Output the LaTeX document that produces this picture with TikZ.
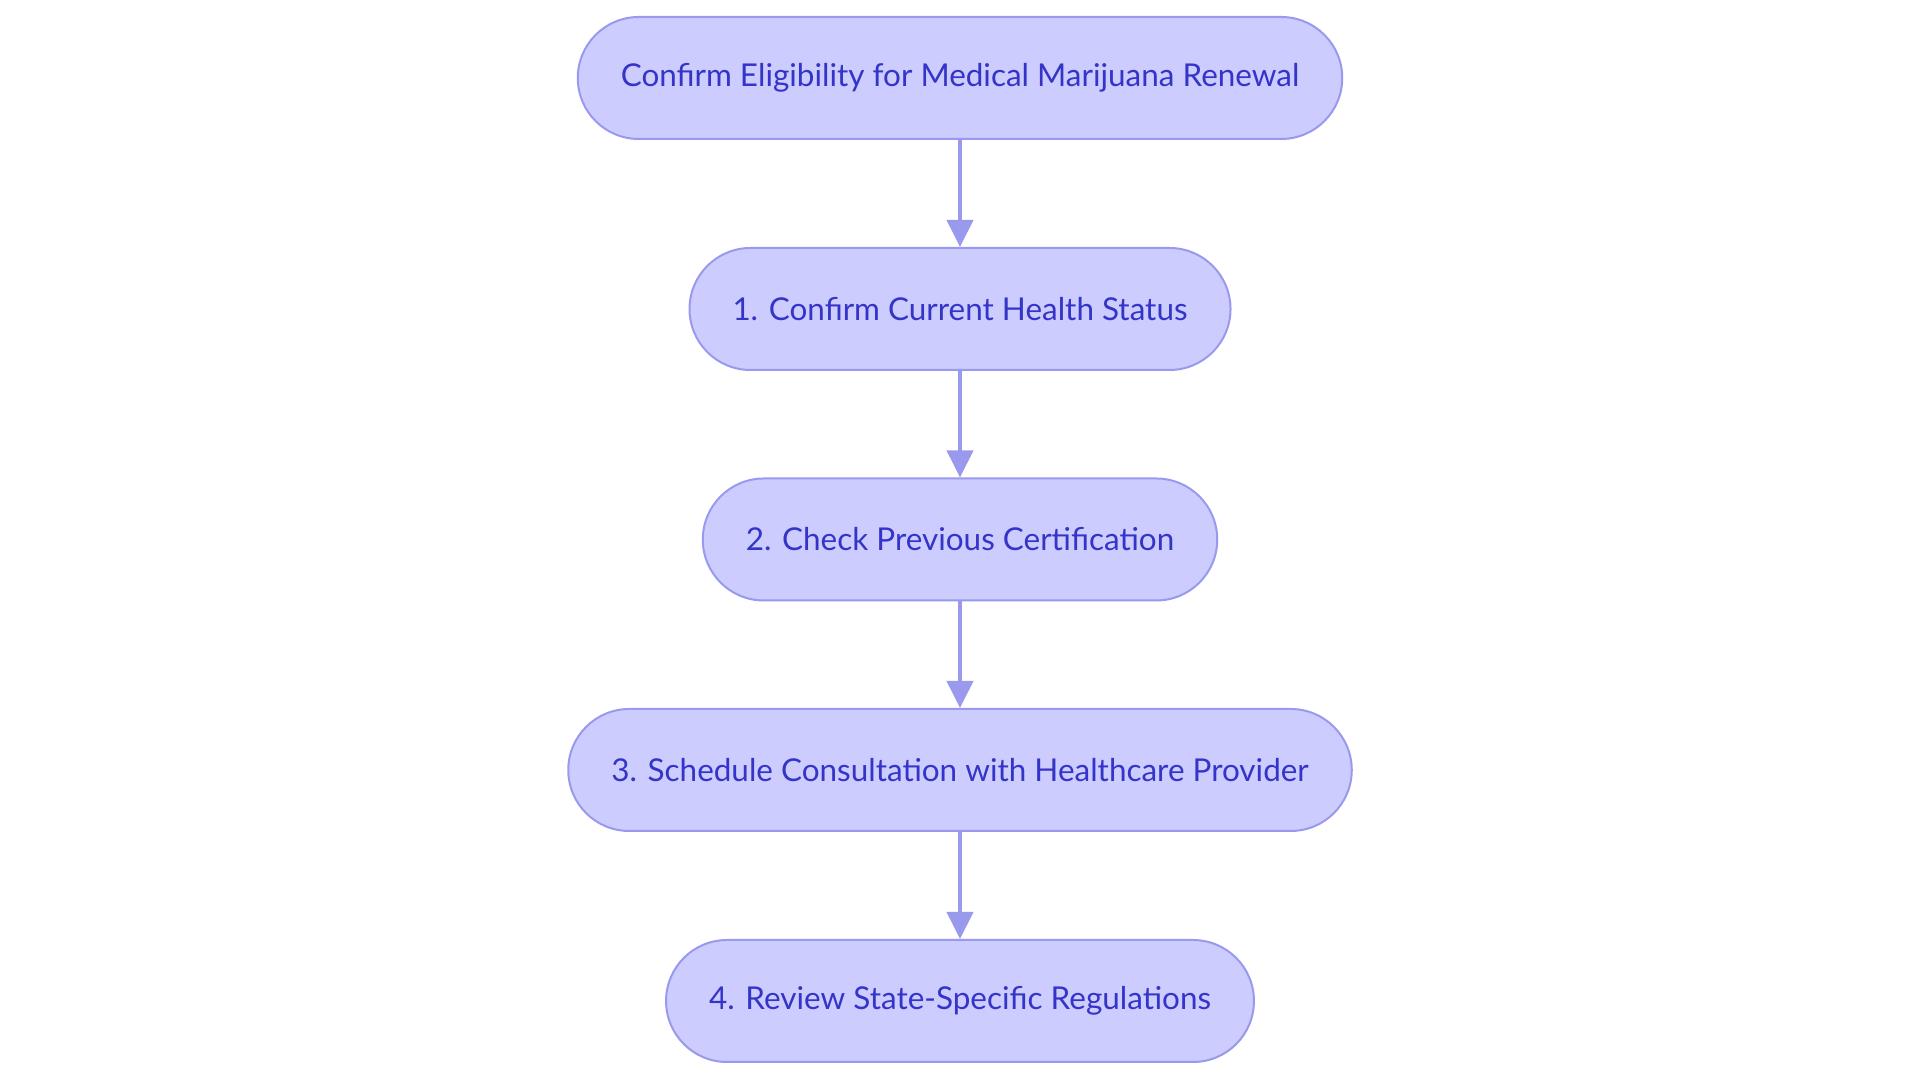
\documentclass[tikz,border=0pt]{standalone}
\usepackage{fontspec}
\setmainfont{Lato}
\usepackage{tikz}
\usetikzlibrary{arrows.meta}
\definecolor{stepfill}{HTML}{CCCCFF}
\definecolor{stepline}{HTML}{9999EE}
\definecolor{steptext}{HTML}{3434C8}
\begin{document}
\begin{tikzpicture}
\tikzstyle{stage}=[draw=stepline,line width=0.02cm,fill=stepfill,text=steptext,font=\fontsize{8.95pt}{10pt}\selectfont,rounded corners=0.61cm,minimum height=1.22cm,inner xsep=0.43cm]
\tikzstyle{link}=[draw=stepline,line width=0.04cm,-{Triangle[length=0.27cm,width=0.26cm]}]
\useasboundingbox (0,0) rectangle (19.2,10.83);
\node[stage] (e) at (9.6,10.05) {Confirm Eligibility for Medical Marijuana Renewal};
\node[stage] (1) at (9.6,7.74) {1. Confirm Current Health Status};
\node[stage] (2) at (9.6,5.435) {2. Check Previous Certification};
\node[stage] (3) at (9.6,3.13) {3. Schedule Consultation with Healthcare Provider};
\node[stage] (4) at (9.6,0.82) {4. Review State-Specific Regulations};
\draw[link] (e) -- (1);
\draw[link] (1) -- (2);
\draw[link] (2) -- (3);
\draw[link] (3) -- (4);
\end{tikzpicture}
\end{document}
